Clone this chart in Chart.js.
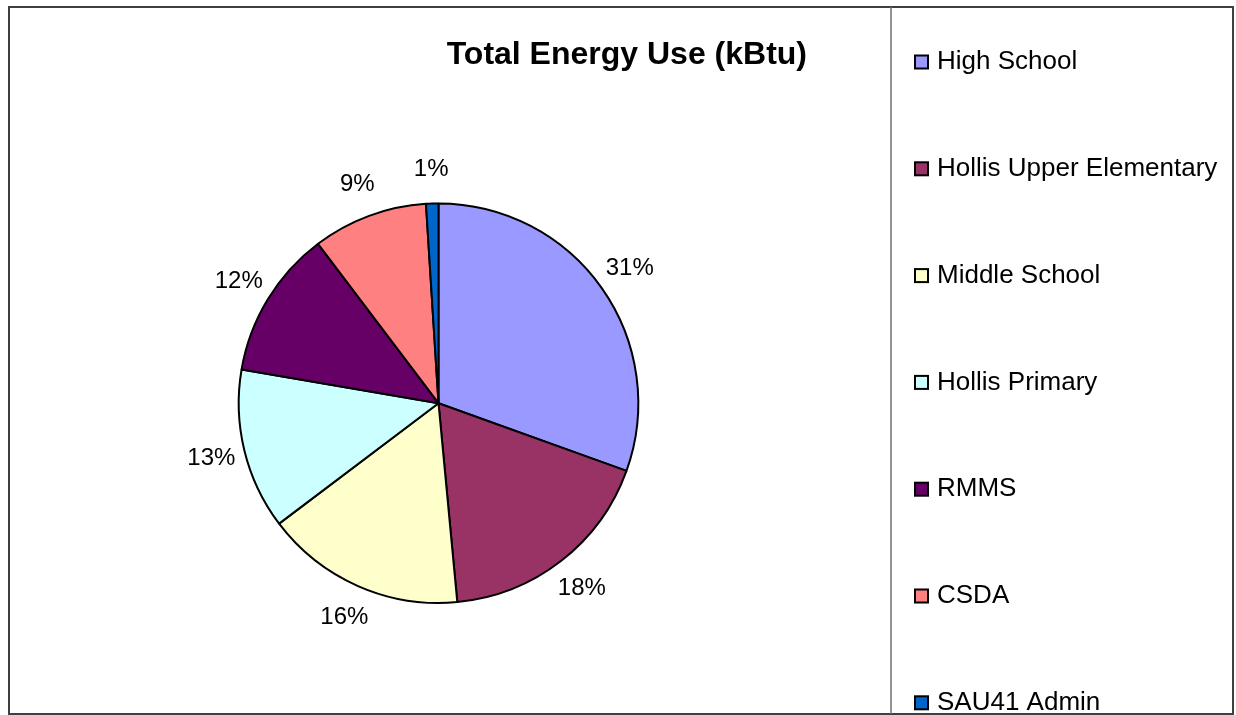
<!DOCTYPE html>
<html>
<head>
<meta charset="utf-8">
<title>Total Energy Use (kBtu)</title>
<script src="https://cdn.jsdelivr.net/npm/chart.js@4.4.1/dist/chart.umd.min.js"></script>
<style>
  html, body { margin: 0; padding: 0; background: #fff; }
  canvas { display: block; }
</style>
</head>
<body>
<canvas id="myChart" width="1236" height="715"></canvas>
<script>
const labels = [
  'High School',
  'Hollis Upper Elementary',
  'Middle School',
  'Hollis Primary',
  'RMMS',
  'CSDA',
  'SAU41 Admin',
];

// share of total energy use, percent
const energyShare = [30.5, 18.0, 16.2, 13.0, 12.0, 9.3, 1.0];

const sliceColors = ['#9999FF', '#993366', '#FFFFCC', '#CCFFFF', '#660066', '#FF8080', '#0066CC'];

const FONT = "'Liberation Sans', Arial, sans-serif";

// percent labels outside each slice
const outsideLabels = {
  id: 'outsideLabels',
  afterDatasetsDraw(chart) {
    const ctx = chart.ctx;
    const meta = chart.getDatasetMeta(0);
    const values = chart.data.datasets[0].data;
    const total = values.reduce((a, b) => a + b, 0);
    ctx.save();
    ctx.font = '24px ' + FONT;
    ctx.fillStyle = '#000';
    ctx.textAlign = 'center';
    ctx.textBaseline = 'middle';
    meta.data.forEach((arc, i) => {
      const p = arc.getProps(['x', 'y', 'startAngle', 'endAngle', 'outerRadius'], true);
      const mid = (p.startAngle + p.endAngle) / 2;
      const r = p.outerRadius + 34;
      const txt = Math.round(values[i] / total * 100) + '%';
      ctx.fillText(txt, p.x + Math.cos(mid) * r, p.y + Math.sin(mid) * r);
    });
    ctx.restore();
  }
};

// frame + legend panel on the right
const framedLegend = {
  id: 'framedLegend',
  afterDraw(chart) {
    const ctx = chart.ctx;
    const ds = chart.data.datasets[0];
    ctx.save();
    ctx.strokeStyle = '#404040';
    ctx.lineWidth = 2;
    ctx.strokeRect(9, 7, 1224, 707);
    ctx.strokeStyle = '#707070';
    ctx.lineWidth = 1.5;
    ctx.beginPath();
    ctx.moveTo(891, 7);
    ctx.lineTo(891, 714);
    ctx.stroke();

    ctx.font = '26px ' + FONT;
    ctx.textBaseline = 'middle';
    ctx.textAlign = 'left';
    chart.data.labels.forEach((lab, i) => {
      const y = 62 + i * 106.8;
      ctx.fillStyle = ds.backgroundColor[i];
      ctx.fillRect(915, y - 6.5, 13, 13);
      ctx.strokeStyle = '#000';
      ctx.lineWidth = 2;
      ctx.strokeRect(915, y - 6.5, 13, 13);
      ctx.fillStyle = '#000';
      ctx.fillText(lab, 937, y);
    });
    ctx.restore();
  }
};

const data = {
  labels: labels,
  datasets: [{
    data: energyShare,
    backgroundColor: sliceColors,
    borderColor: '#000',
    borderWidth: 2,
  }]
};

const config = {
  type: 'pie',
  data: data,
  options: {
    responsive: false,
    animation: false,
    layout: {
      padding: { left: 70, right: 429, top: 0, bottom: 111 }
    },
    plugins: {
      legend: { display: false },
      tooltip: { enabled: false },
      title: {
        display: true,
        text: 'Total Energy Use (kBtu)',
        align: 'end',
        fullSize: false,
        color: '#000',
        font: { family: FONT, size: 32, weight: 'bold', lineHeight: 1.2 },
        padding: { top: 36, bottom: 128 }
      }
    }
  },
  plugins: [outsideLabels, framedLegend]
};

const myChart = new Chart(document.getElementById('myChart'), config);
</script>
</body>
</html>
